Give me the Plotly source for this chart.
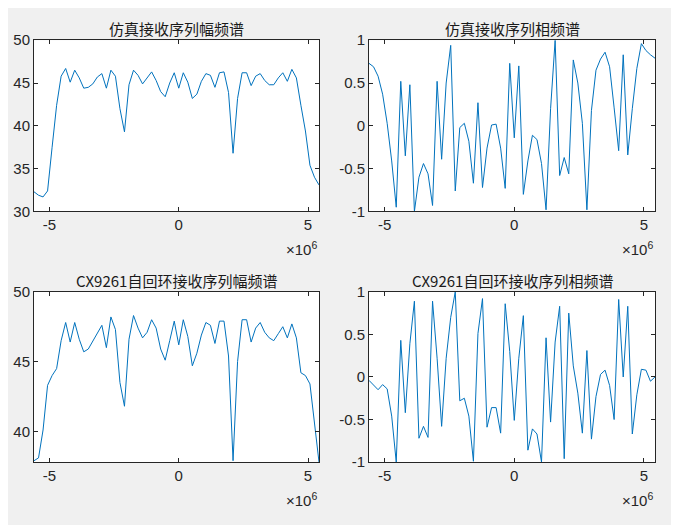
import numpy as np
import plotly.graph_objects as go

# frequency axis: 64 bins, fs = 11.2 MHz
df = 0.175e6
freq = np.arange(-32, 32) * df

sim_mag = [32.3, 31.9, 31.7, 32.4, 37.5, 42.4, 45.8, 46.7, 45.1, 46.5, 45.6, 44.4, 44.5, 44.9, 45.7, 46.1,
           44.4, 46.5, 45.8, 42.0, 39.3, 44.8, 46.5, 45.9, 44.9, 45.6, 46.3, 45.3, 44.0, 43.4, 45.0, 46.2,
           44.4, 46.2, 45.1, 43.2, 43.7, 45.2, 46.1, 45.9, 44.5, 46.2, 46.3, 43.9, 36.8, 43.2, 46.2, 46.2,
           44.7, 45.8, 46.1, 45.3, 44.8, 44.8, 45.6, 46.2, 45.2, 46.6, 45.6, 42.4, 39.4, 35.4, 34.0, 33.1]
sim_phase = [0.73, 0.69, 0.58, 0.37, 0.03, -0.41, -0.95, 0.52, -0.35, 0.48, -1.0, -0.6, -0.44, -0.56, -0.93, 0.52,
             -0.39, 0.5, 0.94, -0.76, -0.02, 0.03, -0.18, -0.67, 0.27, -0.72, -0.26, 0.01, 0.02, -0.26, -0.73, 0.73,
             -0.14, 0.7, -0.8, -0.41, -0.11, -0.16, -0.44, -0.98, 0.2, 1.0, -0.58, -0.37, -0.56, 0.77, 0.5, 0.03,
             -0.98, 0.18, 0.65, 0.78, 0.86, 0.69, 0.21, -0.29, 0.83, -0.34, 0.2, 0.67, 0.96, 0.88, 0.83, 0.79]
cx_mag = [37.9, 38.1, 40.1, 43.3, 44.0, 44.5, 46.5, 47.8, 46.4, 47.8, 46.6, 45.7, 45.9, 46.5, 47.0, 47.6,
          46.0, 48.2, 47.3, 43.5, 41.8, 46.6, 48.3, 47.4, 46.7, 47.1, 48.0, 47.4, 45.9, 45.1, 46.5, 47.9,
          46.2, 48.0, 46.8, 44.7, 45.6, 46.9, 47.8, 47.6, 46.3, 47.9, 47.9, 45.4, 37.9, 45.0, 48.0, 48.0,
          46.4, 47.4, 47.8, 47.1, 46.7, 46.5, 47.0, 47.5, 46.7, 47.7, 46.7, 44.2, 44.0, 43.4, 40.6, 37.8]
cx_phase = [-0.04, -0.09, -0.15, -0.09, -0.14, -0.46, -1.0, 0.43, -0.42, 0.39, 0.89, -0.72, -0.58, -0.71, 0.89, 0.22,
            -0.58, 0.22, 0.7, 1.0, -0.28, -0.25, -0.46, -0.99, 0.51, 0.92, -0.59, -0.36, -0.36, -0.66, 0.86, 0.3,
            -0.51, 0.22, 0.72, -0.86, -0.61, -0.67, -1.0, 0.46, -0.53, 0.41, 0.83, -0.96, 0.75, 0.13, -0.19, -0.66,
            0.31, -0.73, -0.23, 0.03, 0.08, -0.1, -0.5, 0.91, 0.0, 0.83, -0.67, -0.21, 0.09, 0.08, -0.05, 0.0]

titles = ["仿真接收序列幅频谱", "仿真接收序列相频谱", "CX9261自回环接收序列幅频谱", "CX9261自回环接收序列相频谱"]
series = [sim_mag, sim_phase, cx_mag, cx_phase]
yranges = [[30, 50], [-1, 1], [37.8, 50], [-1, 1]]
yticks = [[30, 35, 40, 45, 50], [-1, -0.5, 0, 0.5, 1], [40, 45, 50], [-1, -0.5, 0, 0.5, 1]]

W, H = 679, 525
# axes boxes in pixels (left, right, top, bottom)
boxes = [(34, 319, 32, 209), (369, 655, 32, 209), (34, 319, 292, 468), (369, 655, 292, 468)]
off = 8  # page body margin
xdoms = [[(l - off) / W, (r - off) / W] for l, r, t, b in boxes]
ydoms = [[1 - (b - off) / H, 1 - (t - off) / H] for l, r, t, b in boxes]

tick_font = dict(family="Liberation Sans, Arial", size=15, color="#262626")
fig = go.Figure()
for k in range(4):
    n = "" if k == 0 else str(k + 1)
    fig.add_trace(go.Scatter(x=freq, y=series[k], mode="lines", xaxis="x" + n, yaxis="y" + n,
                             line=dict(color="#0072BD", width=1), showlegend=False))
    ax = dict(showline=True, linecolor="#262626", linewidth=1, mirror="ticks", ticks="inside",
              ticklen=4, tickcolor="#262626", showgrid=False, zeroline=False, tickfont=tick_font)
    fig.layout["xaxis" + n] = dict(ax, domain=xdoms[k], anchor="y" + n, range=[freq[0], freq[-1]],
                                   tickvals=[-5e6, 0, 5e6], ticktext=["-5", "0", "5"])
    fig.layout["yaxis" + n] = dict(ax, domain=ydoms[k], anchor="x" + n, range=yranges[k],
                                   tickvals=yticks[k], ticktext=[f"{v:g}" for v in yticks[k]])
    xm = (xdoms[k][0] + xdoms[k][1]) / 2
    fig.add_annotation(x=xm, y=ydoms[k][1], xref="paper", yref="paper", xanchor="center",
                       yanchor="bottom", showarrow=False, text=titles[k], yshift=-1,
                       font=dict(family="Noto Sans CJK SC", size=15, color="#1a1a1a"))
    fig.add_annotation(x=xdoms[k][1], y=ydoms[k][0], xref="paper", yref="paper", xanchor="right",
                       yanchor="top", showarrow=False, text="×10<sup>6</sup>", yshift=-26,
                       font=dict(family="Liberation Sans, Arial", size=15, color="#262626"))

fig.update_layout(width=W, height=H, margin=dict(l=0, r=0, t=0, b=0),
                  paper_bgcolor="#f0f0f0", plot_bgcolor="white")
fig.write_html("out.html")
